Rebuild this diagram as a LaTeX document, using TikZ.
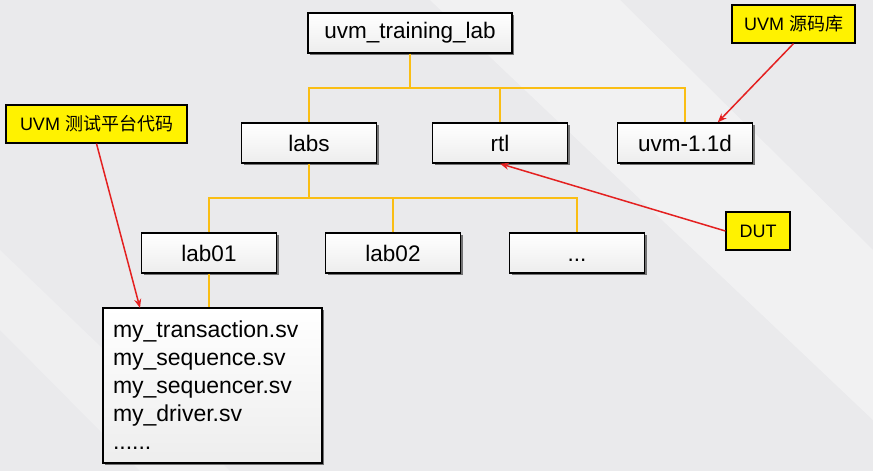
\documentclass[tikz,border=0pt]{standalone}
\usepackage{fontspec}
\setmainfont{Liberation Sans}
\newfontfamily\cjk{Noto Sans CJK SC}
\usetikzlibrary{calc}
\usetikzlibrary{arrows.meta}
\usetikzlibrary{shadows}
\definecolor{treeline}{RGB}{250,190,20}
\definecolor{notered}{RGB}{228,32,32}
\definecolor{bggray}{RGB}{234,234,236}
\tikzset{
	% directory boxes
	dirbox/.style={draw=black, line width=1.3pt, top color=white, bottom color=black!7,
		drop shadow={shadow xshift=2pt, shadow yshift=-2pt, fill=black!60, opacity=0.9},
		minimum width=135pt, minimum height=40pt, inner sep=0pt,
		font=\fontsize{22.5}{27}\selectfont},
	% yellow remarks
	notebox/.style={draw=black, line width=1.2pt, fill=yellow, minimum height=38pt, inner sep=0pt,
		drop shadow={shadow xshift=1pt, shadow yshift=-1pt, fill=black!50, opacity=0.8},
		font=\fontsize{18}{21}\selectfont},
	tree/.style={draw=treeline, line width=2pt},
	notearrow/.style={draw=notered, line width=1.5pt, -{Stealth[length=9pt,width=7pt]}},
}

\begin{document}
\begin{tikzpicture}[x=1pt, y=-1pt]
	% 873 x 471, one unit = one pixel
	\fill[bggray] (0,0) rectangle (873,471);
	\fill[white, opacity=0.35] (430,0) -- (620,0) -- (873,250) -- (873,420) -- cycle;
	\fill[white, opacity=0.25] (0,250) -- (0,330) -- (140,471) -- (230,471) -- cycle;
	\useasboundingbox (0,0) rectangle (873,471);

	% directories
	\node[dirbox, minimum width=204pt] (root) at (410,33) {uvm\_training\_lab};
	\node[dirbox] (labs) at (309,143) {labs};
	\node[dirbox] (rtl) at (500,143) {rtl};
	\node[dirbox] (uvm) at (685,143) {uvm-1.1d};
	\node[dirbox] (lab01) at (209,253) {lab01};
	\node[dirbox] (lab02) at (393,253) {lab02};
	\node[dirbox] (more) at (577,253) {\vphantom{l}...};
	\node[dirbox, minimum width=219pt, minimum height=155pt, text width=199pt, align=left,
		font=\fontsize{23}{28}\selectfont] (files) at (212.5,385.5)
		{my\_transaction.sv\\ my\_sequence.sv\\ my\_sequencer.sv\\ my\_driver.sv\\ ......};

	% tree lines
	\coordinate (bus1) at (410,88);
	\coordinate (bus2) at (309,198);
	\draw[tree] (root.south) -- (root.south |- bus1);
	\draw[tree] (labs.north) -- (labs.north |- bus1) -- (uvm.north |- bus1) -- (uvm.north);
	\draw[tree] (rtl.north) -- (rtl.north |- bus1);
	\draw[tree] (labs.south) -- (labs.south |- bus2);
	\draw[tree] (lab01.north) -- (lab01.north |- bus2) -- (more.north |- bus2) -- (more.north);
	\draw[tree] (lab02.north) -- (lab02.north |- bus2);
	\draw[tree] (lab01.south) -- (files.north -| lab01.south);

	% remarks
	\node[notebox, minimum width=181pt] (tbnote) at (96.5,124) {UVM {\cjk 测试平台代码}};
	\node[notebox, minimum width=123pt] (srcnote) at (793.5,24) {UVM {\cjk 源码库}};
	\node[notebox, minimum width=64pt] (dutnote) at (758,231) {DUT};
	\coordinate (filestip) at (140,308);
	\draw[notearrow] (tbnote.south) -- (filestip);
	\draw[notearrow] (srcnote.south) -- ($(uvm.north west)!0.74!(uvm.north east)$);
	\draw[notearrow] (dutnote.west) -- (rtl.south);
\end{tikzpicture}
\end{document}
